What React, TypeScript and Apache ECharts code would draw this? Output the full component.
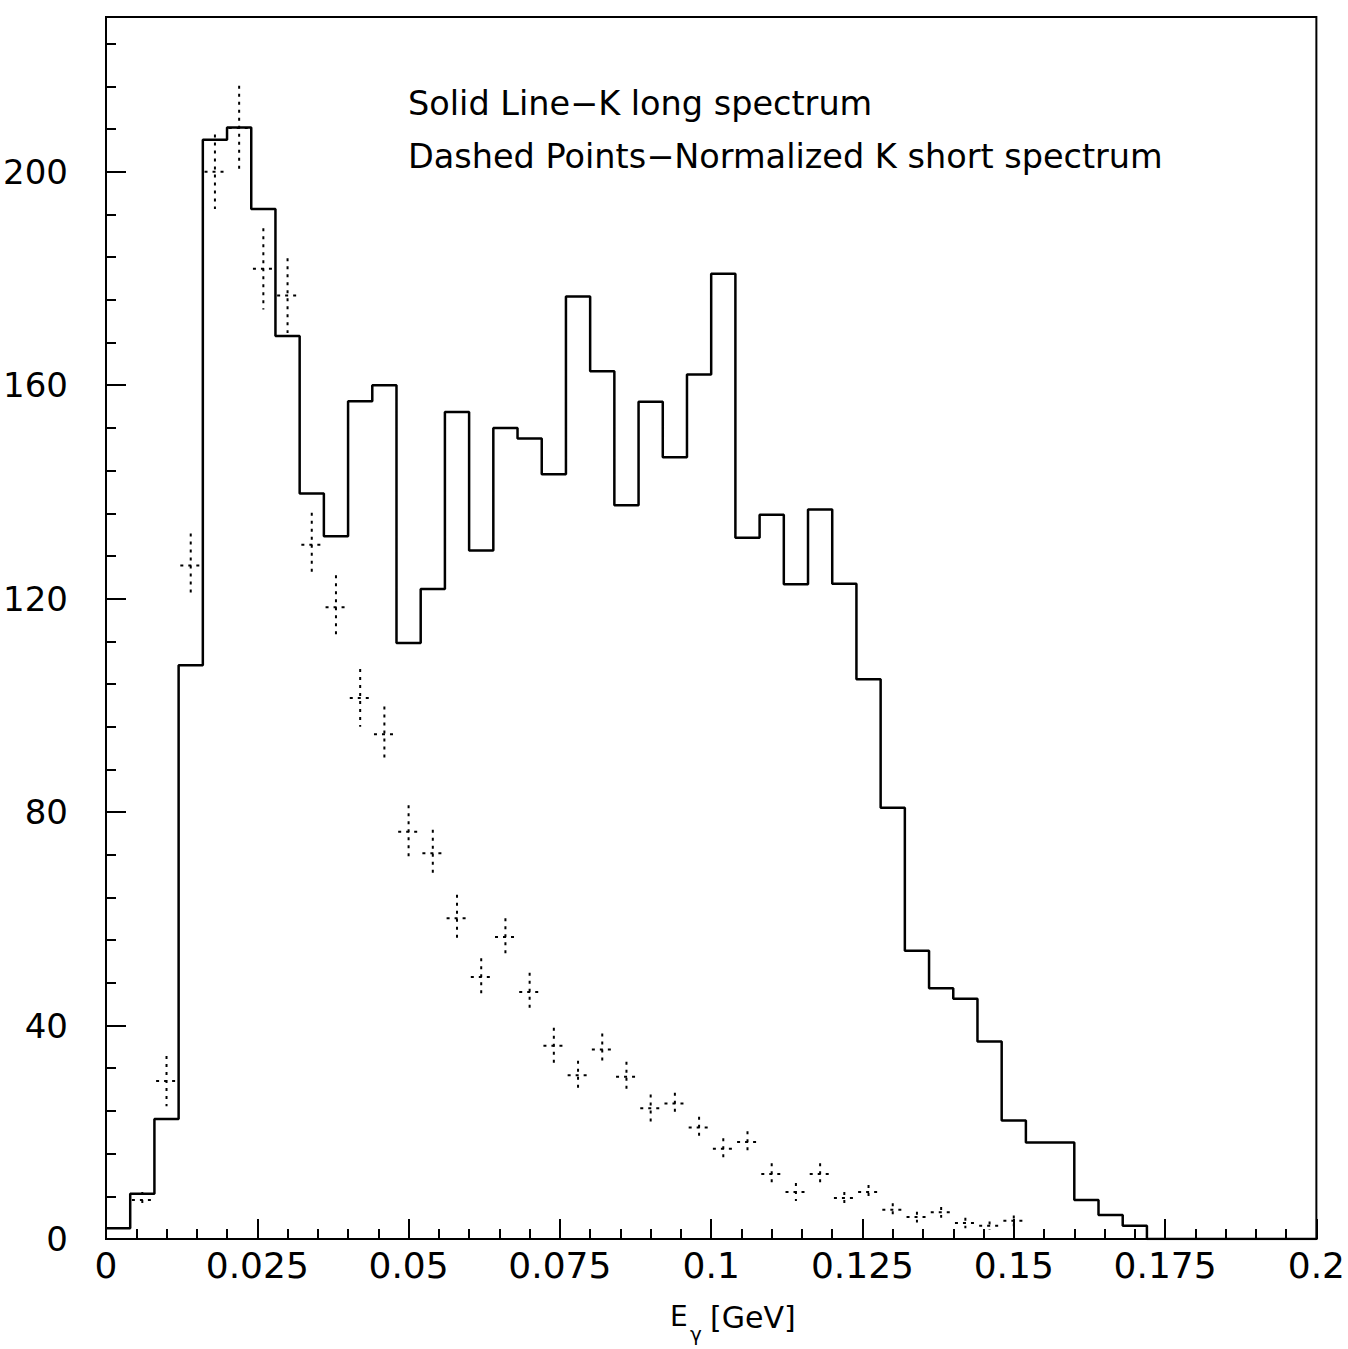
import React, { useEffect, useRef } from "react";
import * as echarts from "echarts";

// Histogram binning (GeV)
const BIN_WIDTH = 0.004;
const N_BINS = 50;

// K long spectrum (solid histogram), one value per bin starting at 0
const klongCounts = [
  2, 8.5, 22.5, 107.5, 206, 208.3, 193, 169.2, 139.7, 131.7,
  157, 160, 111.7, 121.8, 155, 129, 152, 150, 143.3, 176.6,
  162.6, 137.5, 156.9, 146.5, 162, 180.9, 131.4, 135.7, 122.7, 136.7,
  122.8, 104.9, 80.8, 54, 47, 45, 37, 22.2, 18.1, 18.1,
  7.3, 4.5, 2.5, 0, 0, 0, 0, 0, 0, 0,
];

// Normalized K short spectrum (dashed points): bin index, value, error
const kshortBins = [
  1, 2, 3, 4, 5, 6, 7, 8, 9, 10,
  11, 12, 13, 14, 15, 16, 17, 18, 19, 20,
  21, 22, 23, 24, 25, 26, 27, 28, 29, 30,
  31, 32, 33, 34, 35, 36, 37,
];
const kshortValues = [
  7.3, 29.6, 126.2, 200, 208.2, 181.8, 176.8, 130.1, 118.4, 101.4,
  94.6, 76.3, 72.3, 60.1, 49.1, 56.6, 46.3, 36.2, 30.7, 35.5,
  30.4, 24.5, 25.4, 20.9, 16.9, 18.2, 12.2, 8.8, 12.2, 7.7,
  8.8, 5.5, 4.1, 5, 3, 2.5, 3.4,
];
const kshortErrors = [
  1.5, 4.7, 6, 7, 7.9, 7.6, 7, 6, 6, 5.4,
  5.2, 5, 4.4, 4.4, 3.5, 3.5, 3.6, 3.4, 2.7, 3,
  2.8, 2.6, 2, 2, 2, 2, 2, 1.7, 2, 1.1,
  1.3, 1.2, 1, 1, 1, 0.8, 1,
];

const xTickInterval = 0.025;
const yTickInterval = 40;
const yMinorInterval = 8;
const yMax = 229;
const xMax = 0.2;

const legendLine1 = "Solid Line\u2212K long spectrum";
const legendLine2 = "Dashed Points\u2212Normalized K short spectrum";

const FONT = "DejaVu Sans";

export default function App() {
  const ref = useRef<HTMLDivElement>(null);

  useEffect(() => {
    if (!ref.current) return;
    const chart = echarts.init(ref.current, null, { renderer: "svg" });

    const histData: number[][] = klongCounts.map((v, i) => [i * BIN_WIDTH, v]);
    histData.push([N_BINS * BIN_WIDTH, klongCounts[N_BINS - 1]]);

    const pointData = kshortBins.map((b, i) => [
      (b + 0.5) * BIN_WIDTH,
      kshortValues[i],
      kshortErrors[i],
    ]);

    const dashStyle = { stroke: "#000", lineWidth: 2, lineDash: [3, 5] };

    const option: any = {
      animation: false,
      backgroundColor: "#fff",
      grid: {
        left: 106,
        right: 19,
        top: 17,
        bottom: 110,
        show: true,
        borderColor: "#000",
        borderWidth: 2,
      },
      xAxis: {
        type: "value",
        min: 0,
        max: xMax,
        interval: xTickInterval,
        axisLine: { show: true, lineStyle: { color: "#000", width: 2 } },
        axisTick: { show: true, inside: true, length: 20, lineStyle: { color: "#000", width: 2 } },
        minorTick: { show: true, splitNumber: 5, length: 10, lineStyle: { color: "#000", width: 2 } },
        splitLine: { show: false },
        minorSplitLine: { show: false },
        axisLabel: {
          fontSize: 36,
          fontFamily: FONT,
          color: "#000",
          margin: 8,
          formatter: (v: number) => String(+v.toFixed(3)),
        },
      },
      yAxis: [
        {
          type: "value",
          position: "left",
          min: 0,
          max: yMax,
          interval: yTickInterval,
          axisLine: { show: true, lineStyle: { color: "#000", width: 2 } },
          axisTick: { show: true, inside: true, length: 20, lineStyle: { color: "#000", width: 2 } },
          splitLine: { show: false },
          axisLabel: {
            fontSize: 34,
            fontFamily: FONT,
            color: "#000",
            margin: 38,
            formatter: (v: number) => (v % yTickInterval === 0 ? String(v) : ""),
          },
        },
        {
          type: "value",
          position: "left",
          min: 0,
          max: yMax,
          interval: yMinorInterval,
          axisLine: { show: false },
          axisTick: { show: true, inside: true, length: 10, lineStyle: { color: "#000", width: 2 } },
          splitLine: { show: false },
          axisLabel: { show: false },
        },
      ],
      series: [
        {
          type: "line",
          step: "end",
          data: histData,
          symbol: "none",
          lineStyle: { color: "#000", width: 2.5 },
          z: 3,
        },
        {
          type: "custom",
          data: pointData,
          encode: { x: 0, y: 1 },
          z: 2,
          renderItem: (params: any, api: any) => {
            const x = api.value(0);
            const y = api.value(1);
            const e = api.value(2);
            const c = api.coord([x, y]);
            const t = api.coord([x, y + e]);
            const b = api.coord([x, y - e]);
            const l = api.coord([x - BIN_WIDTH * 0.43, y]);
            const r = api.coord([x + BIN_WIDTH * 0.43, y]);
            return {
              type: "group",
              children: [
                { type: "line", shape: { x1: c[0], y1: t[1], x2: c[0], y2: b[1] }, style: dashStyle },
                { type: "line", shape: { x1: l[0], y1: c[1], x2: r[0], y2: c[1] }, style: dashStyle },
              ],
            };
          },
        },
      ],
      graphic: [
        {
          type: "text",
          left: 408,
          top: 86,
          style: { text: legendLine1, fontSize: 33.5, fontFamily: FONT, fill: "#000" },
        },
        {
          type: "text",
          left: 408,
          top: 139,
          style: { text: legendLine2, fontSize: 33.5, fontFamily: FONT, fill: "#000" },
        },
        {
          type: "text",
          left: 670,
          top: 1302,
          style: { text: "E", fontSize: 28, fontFamily: FONT, fill: "#000" },
        },
        {
          type: "text",
          left: 690,
          top: 1324,
          style: { text: "\u03b3", fontSize: 20, fontFamily: FONT, fill: "#000" },
        },
        {
          type: "text",
          left: 710,
          top: 1302,
          style: { text: "[GeV]", fontSize: 30, fontFamily: FONT, fill: "#000" },
        },
      ],
    };

    chart.setOption(option);
    return () => chart.dispose();
  }, []);

  return (
    <div
      ref={ref}
      style={{ position: "absolute", left: 0, top: 0, width: 1348, height: 1349, background: "#fff" }}
    />
  );
}
